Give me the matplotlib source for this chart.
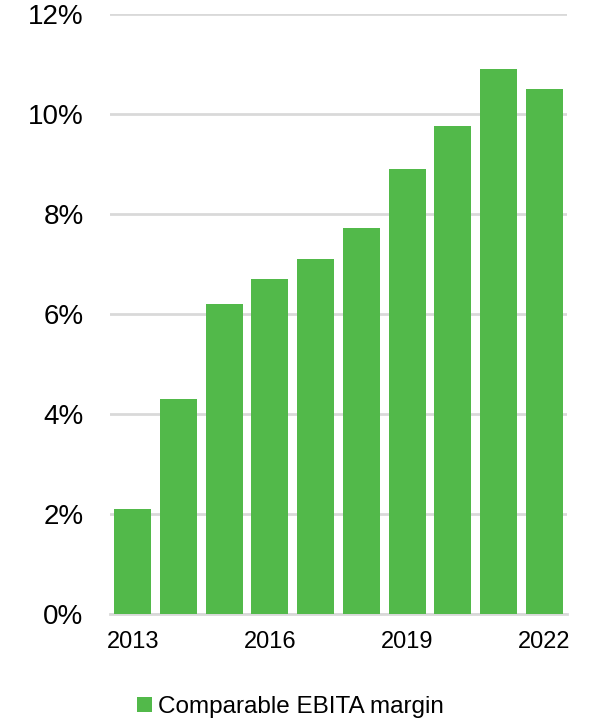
import matplotlib
matplotlib.use("Agg")
import matplotlib.pyplot as plt
from matplotlib.patches import Patch
from matplotlib.ticker import FuncFormatter

years = [2013, 2014, 2015, 2016, 2017, 2018, 2019, 2020, 2021, 2022]
margin = [2.1, 4.3, 6.2, 6.7, 7.1, 7.72, 8.9, 9.76, 10.9, 10.5]
series_label = "Comparable EBITA margin"
yticks = [0, 2, 4, 6, 8, 10, 12]
xtick_years = [2013, 2016, 2019, 2022]

plt.rcParams['font.family'] = ['Liberation Sans', 'DejaVu Sans']
green = '#52B94A'
grid = '#D9D9D9'

fig = plt.figure(figsize=(6, 7.24), dpi=100)
ax = fig.add_axes([110/600, 1-614/724, (567-110)/600, (614-14)/724])

x = list(range(len(years)))
ax.bar(x, margin, width=0.81, color=green, zorder=3)

ax.set_xlim(-0.5, len(years)-0.5)
ax.set_ylim(0, 12)
ax.set_yticks(yticks)
ax.yaxis.set_major_formatter(FuncFormatter(lambda v, p: f"{v:.0f}%"))
ax.yaxis.grid(True, color=grid, linewidth=2, zorder=0)
ax.set_xticks([years.index(y) for y in xtick_years])
ax.set_xticklabels([str(y) for y in xtick_years])
ax.tick_params(axis='y', length=0, labelsize=20, pad=19, colors='black')
ax.tick_params(axis='x', length=0, labelsize=17, pad=12, colors='black')
for s in ['top', 'right', 'left']:
    ax.spines[s].set_visible(False)
ax.spines['bottom'].set_color(grid)
ax.spines['bottom'].set_linewidth(2)
ax.spines['bottom'].set_zorder(1)

handle = Patch(facecolor=green, edgecolor='none')
fig.legend([handle], [series_label], loc='center left',
           bbox_to_anchor=(125/600, 1-707/724), frameon=False,
           fontsize=17.5, handlelength=0.62, handleheight=0.62,
           handletextpad=0.25, borderpad=0)

fig.savefig("out.png", dpi=100)
